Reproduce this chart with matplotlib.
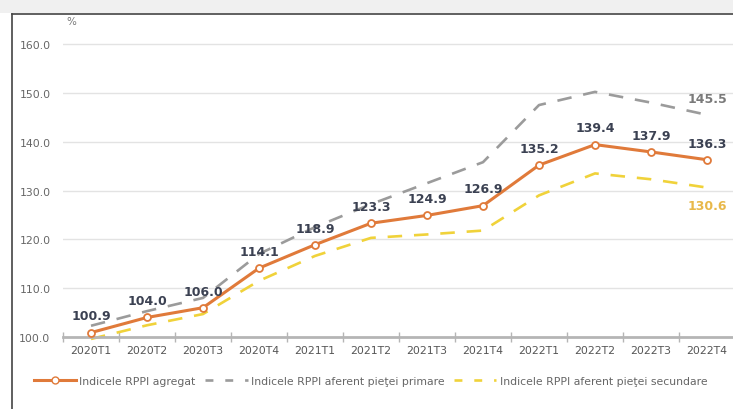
import matplotlib
matplotlib.use("Agg")
import matplotlib.pyplot as plt
from matplotlib.lines import Line2D
from matplotlib.patches import Rectangle

categories = ["2020T1", "2020T2", "2020T3", "2020T4", "2021T1", "2021T2",
              "2021T3", "2021T4", "2022T1", "2022T2", "2022T3", "2022T4"]
agregat = [100.9, 104.0, 106.0, 114.1, 118.9, 123.3, 124.9, 126.9, 135.2, 139.4, 137.9, 136.3]
primara = [102.3, 105.3, 108.0, 117.0, 122.5, 127.2, 131.5, 135.8, 147.5, 150.2, 148.0, 145.5]
secundara = [99.6, 102.4, 104.7, 111.5, 116.6, 120.3, 121.0, 121.8, 129.0, 133.5, 132.3, 130.6]
yticks = [100, 110, 120, 130, 140, 150, 160]
legend_labels = ["Indicele RPPI agregat", "Indicele RPPI aferent pieţei primare",
                 "Indicele RPPI aferent pieţei secundare"]

W, H = 733, 410
fig = plt.figure(figsize=(W / 100, H / 100), dpi=100)
fig.patch.set_facecolor("white")

# frame decoration
fig.patches.append(Rectangle((0, 1 - 14 / H), 1, 14 / H, transform=fig.transFigure,
                             facecolor="#f0f0f0", edgecolor="none", zorder=0))
fig.add_artist(Line2D([12 / W, 1], [1 - 15 / H, 1 - 15 / H], color="#444444", lw=1.2,
                      transform=fig.transFigure))
fig.add_artist(Line2D([12 / W, 12 / W], [0, 1 - 15 / H], color="#444444", lw=1.2,
                      transform=fig.transFigure))

px_per_unit = 4.883
ymax = 162
ax_left, ax_bottom = 63 / W, (H - 338) / H
ax_w = 672 / W
ax_h = (ymax - 100) * px_per_unit / H
ax = fig.add_axes([ax_left, ax_bottom, ax_w, ax_h])
ax.set_xlim(-0.5, 11.5)
ax.set_ylim(100, ymax)

x = list(range(len(categories)))
orange = "#E07A3A"
grey = "#9b9b9b"
yellow = "#F0D23A"
lab_col = "#3b4152"

for v in yticks[1:]:
    ax.axhline(v, color="#e3e3e3", lw=1.0, zorder=0)

ax.plot(x, primara, color=grey, lw=1.9, dashes=(5.5, 4.5), zorder=2, clip_on=False)
ax.plot(x, secundara, color=yellow, lw=1.9, dashes=(5.5, 4.5), zorder=2, clip_on=False)
ax.plot(x, agregat, color=orange, lw=2.2, marker="o", markersize=5,
        markerfacecolor="white", markeredgecolor=orange, markeredgewidth=1.3,
        zorder=3, clip_on=False)

for xi, v in zip(x, agregat):
    ax.annotate(f"{v:.1f}", (xi, v), xytext=(0, 12), textcoords="offset points",
                ha="center", va="center", fontsize=9, fontweight="bold",
                color=lab_col, zorder=4)
ax.annotate(f"{primara[-1]:.1f}", (x[-1], primara[-1]), xytext=(0, 12),
            textcoords="offset points", ha="center", va="center", fontsize=9,
            fontweight="bold", color="#7a7a7a")
ax.annotate(f"{secundara[-1]:.1f}", (x[-1], secundara[-1]), xytext=(0, -13),
            textcoords="offset points", ha="center", va="center", fontsize=9,
            fontweight="bold", color="#E8B84A")

for s in ["left", "right", "top"]:
    ax.spines[s].set_visible(False)
ax.spines["bottom"].set_color("#b5b5b5")
ax.spines["bottom"].set_linewidth(2.0)

ax.set_xticks(x)
ax.set_xticklabels(categories, fontsize=7.8, color="#555555")
ax.tick_params(axis="x", length=0, pad=6)
ax.set_xticks([i - 0.5 for i in x] + [11.5], minor=True)
ax.tick_params(axis="x", which="minor", length=7, width=1.0, color="#b5b5b5", direction="inout")

ax.set_yticks(yticks)
ax.set_yticklabels([f"{v:.1f}" for v in yticks], fontsize=7.8, color="#666666")
ax.tick_params(axis="y", length=0, pad=9)

fig.text(66 / W, 1 - 22 / H, "%", fontsize=7.5, color="#777777", ha="left", va="center")

handles = [
    Line2D([], [], color=orange, lw=2.2, marker="o", markersize=5,
           markerfacecolor="white", markeredgecolor=orange),
    Line2D([], [], color=grey, lw=1.9, dashes=(3, 4.5)),
    Line2D([], [], color=yellow, lw=1.9, dashes=(3, 4.5)),
]
leg = fig.legend(handles, legend_labels, loc="center left",
                 bbox_to_anchor=(24 / W, 1 - 382 / H), ncol=3, frameon=False,
                 fontsize=7.8, handlelength=3.9, columnspacing=0.9, handletextpad=0.3,
                 labelcolor="#666666")

fig.savefig("out.png", dpi=100)
